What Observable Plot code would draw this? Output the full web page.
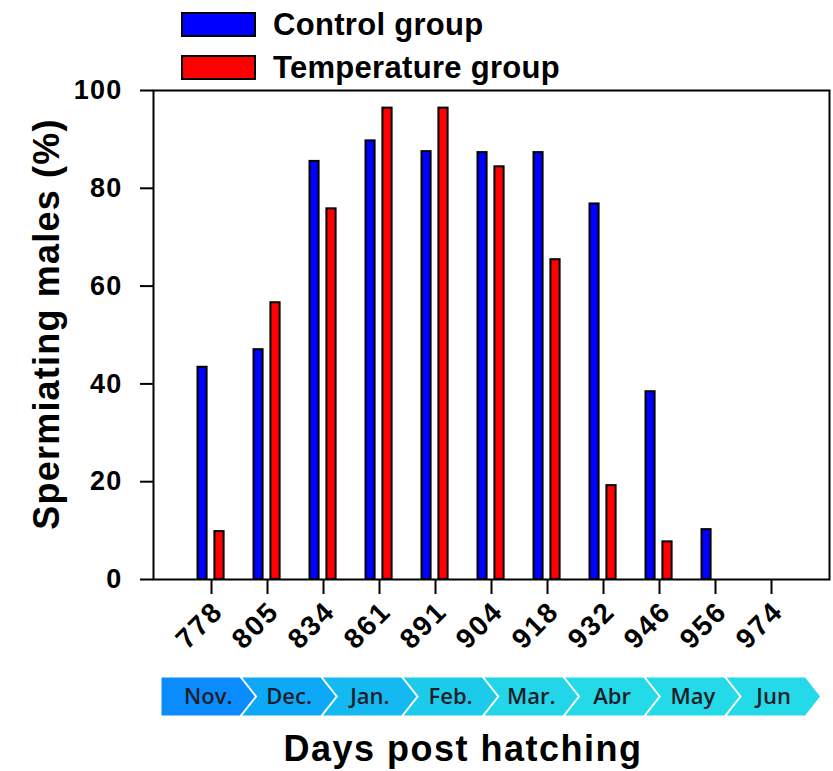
<!DOCTYPE html>
<html>
<head>
<meta charset="utf-8">
<script src="https://cdn.jsdelivr.net/npm/d3@7"></script>
<script src="https://cdn.jsdelivr.net/npm/@observablehq/plot@0.6"></script>
<style>
  body { margin: 0; background: #fff; font-family: "Liberation Sans", Arial, sans-serif; }
  #wrap { position: relative; width: 833px; height: 771px; overflow: hidden; }
  #wrap > * { position: absolute; left: 0; }
  .legend-row { position: absolute; left: 181px; display: flex; align-items: center; }
  .legend-swatch { width: 71px; height: 21px; border: 2px solid #000; }
  .legend-text { margin-left: 17px; font-size: 31px; font-weight: bold; color: #000; letter-spacing: 0.3px; white-space: nowrap; line-height: 1; }
  #xtitle { top: 731px; width: 740px; padding-left: 93px; text-align: center; font-size: 36px; font-weight: bold; letter-spacing: 1.5px; line-height: 1; color: #000; }
  #main svg text { letter-spacing: 1.2px; }
  #main svg g.xlab text { letter-spacing: 2.2px; }
  #main svg g[aria-label="y-title"] text { letter-spacing: 1.9px; }
</style>
</head>
<body>
<div id="wrap"></div>
<script>
// Days post hatching (x categories)
const days = ["778", "805", "834", "861", "891", "904", "918", "932", "946", "956", "974"];
// Percentage of spermiating males per sampling day (null = no bar)
const controlGroup = [43.4, 47.0, 85.5, 89.7, 87.5, 87.3, 87.3, 76.8, 38.4, 10.2, null];
const temperatureGroup = [9.8, 56.6, 75.8, 96.4, 96.4, 84.4, 65.4, 19.2, 7.7, null, null];
const seriesNames = ["Control group", "Temperature group"];
const seriesColors = ["#0000ff", "#ff0000"];
const yTicks = [0, 20, 40, 60, 80, 100];
const yLabel = "Spermiating males (%)";
const xLabel = "Days post hatching";
// Month banner
const months = ["Nov.", "Dec.", "Jan.", "Feb.", "Mar.", "Abr", "May", "Jun"];
const monthColors = ["#0a8cff", "#0ea9f6", "#13b9f0", "#1ccbea", "#22d5e8", "#24d9e8", "#24d9e8", "#24d9e8"];

const wrap = document.getElementById("wrap");

// Legend
const legend = document.createElement("div");
legend.style.top = "0px";
legend.style.width = "833px";
legend.style.height = "86px";
seriesNames.forEach((name, i) => {
  const row = document.createElement("div");
  row.className = "legend-row";
  row.style.top = (9 + i * 43) + "px";
  const sw = document.createElement("div");
  sw.className = "legend-swatch";
  sw.style.background = seriesColors[i];
  const tx = document.createElement("span");
  tx.className = "legend-text";
  tx.textContent = name;
  row.append(sw, tx);
  legend.append(row);
});
wrap.append(legend);

// Long-format rows for the bars
const rows = [];
[controlGroup, temperatureGroup].forEach((vals, s) => {
  vals.forEach((v, i) => {
    if (v != null) rows.push({day: days[i], group: seriesNames[s], value: v});
  });
});

const fontFamily = '"Liberation Sans", Arial, sans-serif';

const main = Plot.plot({
  width: 833,
  height: 579,
  marginLeft: 153,
  marginRight: 4,
  marginTop: 4,
  marginBottom: 86,
  style: {fontFamily, color: "#000", background: "transparent", overflow: "visible"},
  x: {type: "band", domain: days, paddingInner: 0, paddingOuter: 0.5},
  y: {domain: [0, 100]},
  marks: [
    Plot.barY(rows.filter(d => d.group === seriesNames[0]), {
      x: "day", y: "value", fill: seriesColors[0], stroke: "#000", strokeWidth: 2,
      insetLeft: 14.5, insetRight: 32.4
    }),
    Plot.barY(rows.filter(d => d.group === seriesNames[1]), {
      x: "day", y: "value", fill: seriesColors[1], stroke: "#000", strokeWidth: 2,
      insetLeft: 31.4, insetRight: 15.4
    }),
    Plot.frame({stroke: "#000", strokeWidth: 2}),
    Plot.axisY({
      ticks: yTicks, tickSize: 13, tickPadding: 18, strokeWidth: 2,
      fontSize: 27, fontWeight: "bold", label: null
    }),
    // x tick marks
    Plot.axisX({
      tickSize: 15, tickFormat: () => "", strokeWidth: 2, label: null
    }),
    // x tick labels, rotated
    Plot.axisX({
      tickSize: 0, tickPadding: 27, tickRotate: -45, dx: 7,
      fontSize: 28, fontWeight: "bold", label: null
    }),
    Plot.text([yLabel], {
      frameAnchor: "left", text: d => d, rotate: -90, dx: -106, dy: -11,
      fontSize: 36, fontWeight: "bold", textAnchor: "middle", lineAnchor: "middle",
      ariaLabel: "y-title"
    })
  ]
});
const mainBox = document.createElement("div");
mainBox.id = "main";
mainBox.style.top = "86px";
mainBox.append(main);
wrap.append(mainBox);
// tag the rotated label group for letter spacing
mainBox.querySelectorAll('g[aria-label="x-axis tick label"]').forEach(g => g.classList.add("xlab"));

// Month banner: chevrons laid out on a month-index scale
const tip = 0.186, gap = 0.03;
const chevronPts = [];
months.forEach((m, i) => {
  const l = i, r = i + 1 - gap;
  const pts = [
    [l, 1], [r, 1], [r + tip, 0.5], [r, 0], [l, 0],
    i === 0 ? [l, 0.5] : [l + tip, 0.5]
  ];
  pts.forEach(([x, y]) => chevronPts.push({month: m, color: monthColors[i], x, y}));
});

const banner = Plot.plot({
  width: 833,
  height: 60,
  marginLeft: 161,
  marginRight: 26,
  marginTop: 12,
  marginBottom: 10,
  style: {background: "transparent", overflow: "visible"},
  x: {domain: [0, months.length], axis: null},
  y: {domain: [0, 1], axis: null},
  color: {type: "identity"},
  marks: [
    Plot.line(chevronPts, {x: "x", y: "y", z: "month", fill: "color", stroke: null, curve: "linear"}),
    Plot.text(months, {
      x: (d, i) => i + 0.58, y: 0.5, text: d => d,
      fontFamily: '"Open Sans", "Noto Sans", sans-serif', fontWeight: 600, fontSize: 22, fill: "#1e1e2a"
    })
  ]
});
const bannerBox = document.createElement("div");
bannerBox.style.top = "665px";
bannerBox.append(banner);
wrap.append(bannerBox);

// X-axis title
const xt = document.createElement("div");
xt.id = "xtitle";
xt.textContent = xLabel;
wrap.append(xt);
</script>
</body>
</html>
